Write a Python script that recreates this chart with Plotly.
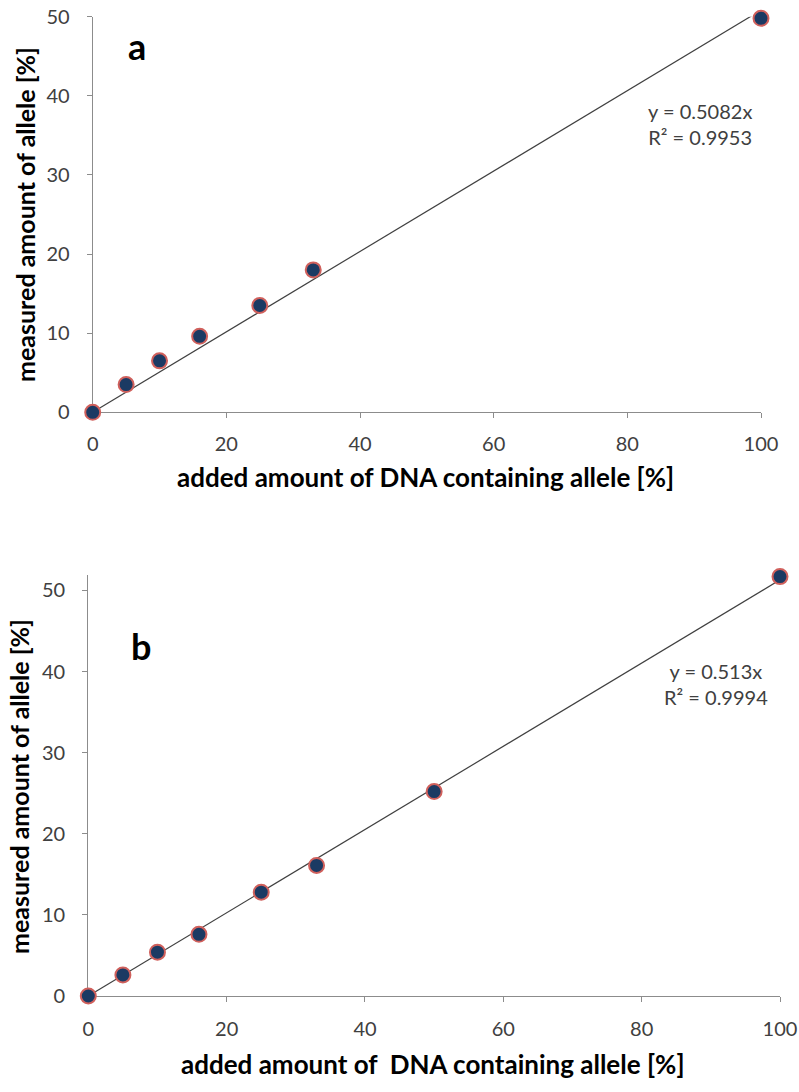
import plotly.graph_objects as go

# Panel a data
xa = [0, 5, 10, 16, 25, 33, 100]
ya = [0, 3.5, 6.5, 9.6, 13.5, 18.0, 49.8]
slope_a = 0.5082
eq_a = "y = 0.5082x<br>R² = 0.9953"

# Panel b data
xb = [0, 5, 10, 16, 25, 33, 50, 100]
yb = [0, 2.6, 5.4, 7.6, 12.8, 16.1, 25.2, 51.7]
slope_b = 0.513
eq_b = "y = 0.513x<br>R² = 0.9994"

x_ticks = [0, 20, 40, 60, 80, 100]
y_ticks = [0, 10, 20, 30, 40, 50]

W, H = 799, 1092
FONT = "Lato, Open Sans, sans-serif"
TXT = "#404040"
AX = "#8c8c8c"
NAVY = "#1b3a63"
RED = "#d0605c"

fig = go.Figure()

def add_panel(xs, ys, slope, xaxis, yaxis):
    fig.add_trace(go.Scatter(
        x=[0, 100], y=[0, slope * 100], mode="lines",
        line=dict(color="#404040", width=1.2),
        xaxis=xaxis, yaxis=yaxis, showlegend=False, hoverinfo="skip"))
    fig.add_trace(go.Scatter(
        x=xs, y=ys, mode="markers",
        marker=dict(size=15, color=NAVY, line=dict(color=RED, width=2)),
        xaxis=xaxis, yaxis=yaxis, showlegend=False, cliponaxis=False))

add_panel(xa, ya, slope_a, "x", "y")
add_panel(xb, yb, slope_b, "x2", "y2")

def px_x(p):
    return p / W

def px_y(p):
    return 1 - p / H

axis_common = dict(
    showgrid=False, zeroline=False, showline=True, linecolor=AX, linewidth=1.2,
    ticks="outside", ticklen=5, tickcolor=AX, tickwidth=1.2, automargin=False,
    ticklabeloverflow="allow", layer="below traces",
    tickfont=dict(family=FONT, size=20, color=TXT),
)

fig.update_layout(
    width=W, height=H,
    margin=dict(l=0, r=0, t=0, b=0),
    paper_bgcolor="white", plot_bgcolor="white",
    xaxis=dict(axis_common, domain=[px_x(92.7), px_x(761)], range=[0, 100],
               tickvals=x_ticks, anchor="y", ticklabelstandoff=9),
    yaxis=dict(axis_common, domain=[px_y(412.3), px_y(16.7)], range=[0, 50],
               tickvals=y_ticks, anchor="x", ticklabelstandoff=13),
    xaxis2=dict(axis_common, domain=[px_x(88.3), px_x(780)], range=[0, 100],
                tickvals=x_ticks, anchor="y2", ticklabelstandoff=10),
    yaxis2=dict(axis_common, domain=[px_y(996), px_y(575)], range=[0, 51.9],
                tickvals=y_ticks, anchor="x2", ticklabelstandoff=13),
)

ann = []
title_font = dict(family=FONT, size=26, color="black", weight="bold")
ytitle_font = dict(family=FONT, size=25, color="black", weight="bold")
# axis titles
ann.append(dict(text="added amount of DNA containing allele [%]", x=px_x(425.5), y=px_y(477),
                xref="paper", yref="paper", showarrow=False, font=title_font,
                xanchor="center", yanchor="middle"))
ann.append(dict(text="measured amount of allele [%]", x=px_x(25), y=px_y(215),
                xref="paper", yref="paper", showarrow=False, font=ytitle_font,
                textangle=-90, xanchor="center", yanchor="middle"))
ann.append(dict(text="added amount of  DNA containing allele [%]", x=px_x(432.5), y=px_y(1064),
                xref="paper", yref="paper", showarrow=False, font=title_font,
                xanchor="center", yanchor="middle"))
ann.append(dict(text="measured amount of allele [%]", x=px_x(18.5), y=px_y(786.5),
                xref="paper", yref="paper", showarrow=False, font=ytitle_font,
                textangle=-90, xanchor="center", yanchor="middle"))
# panel letters
ann.append(dict(text="a", x=px_x(137), y=px_y(46), xref="paper", yref="paper",
                showarrow=False, font=dict(family=FONT, size=36, color="black", weight="bold"),
                xanchor="center", yanchor="middle"))
ann.append(dict(text="b", x=px_x(140.5), y=px_y(646), xref="paper", yref="paper",
                showarrow=False, font=dict(family=FONT, size=36, color="black", weight="bold"),
                xanchor="center", yanchor="middle"))
# equations
ann.append(dict(text=eq_a, x=px_x(699.5), y=px_y(123.5), xref="paper", yref="paper",
                showarrow=False, font=dict(family=FONT, size=20, color=TXT),
                xanchor="center", yanchor="middle", align="center"))
ann.append(dict(text=eq_b, x=px_x(715.5), y=px_y(683.5), xref="paper", yref="paper",
                showarrow=False, font=dict(family=FONT, size=20, color=TXT),
                xanchor="center", yanchor="middle", align="center"))
fig.update_layout(annotations=ann)

fig.write_html(
    "out.html",
    config={"displayModeBar": False},
    post_script="document.body.style.margin='0';document.body.style.overflow='hidden';",
)
